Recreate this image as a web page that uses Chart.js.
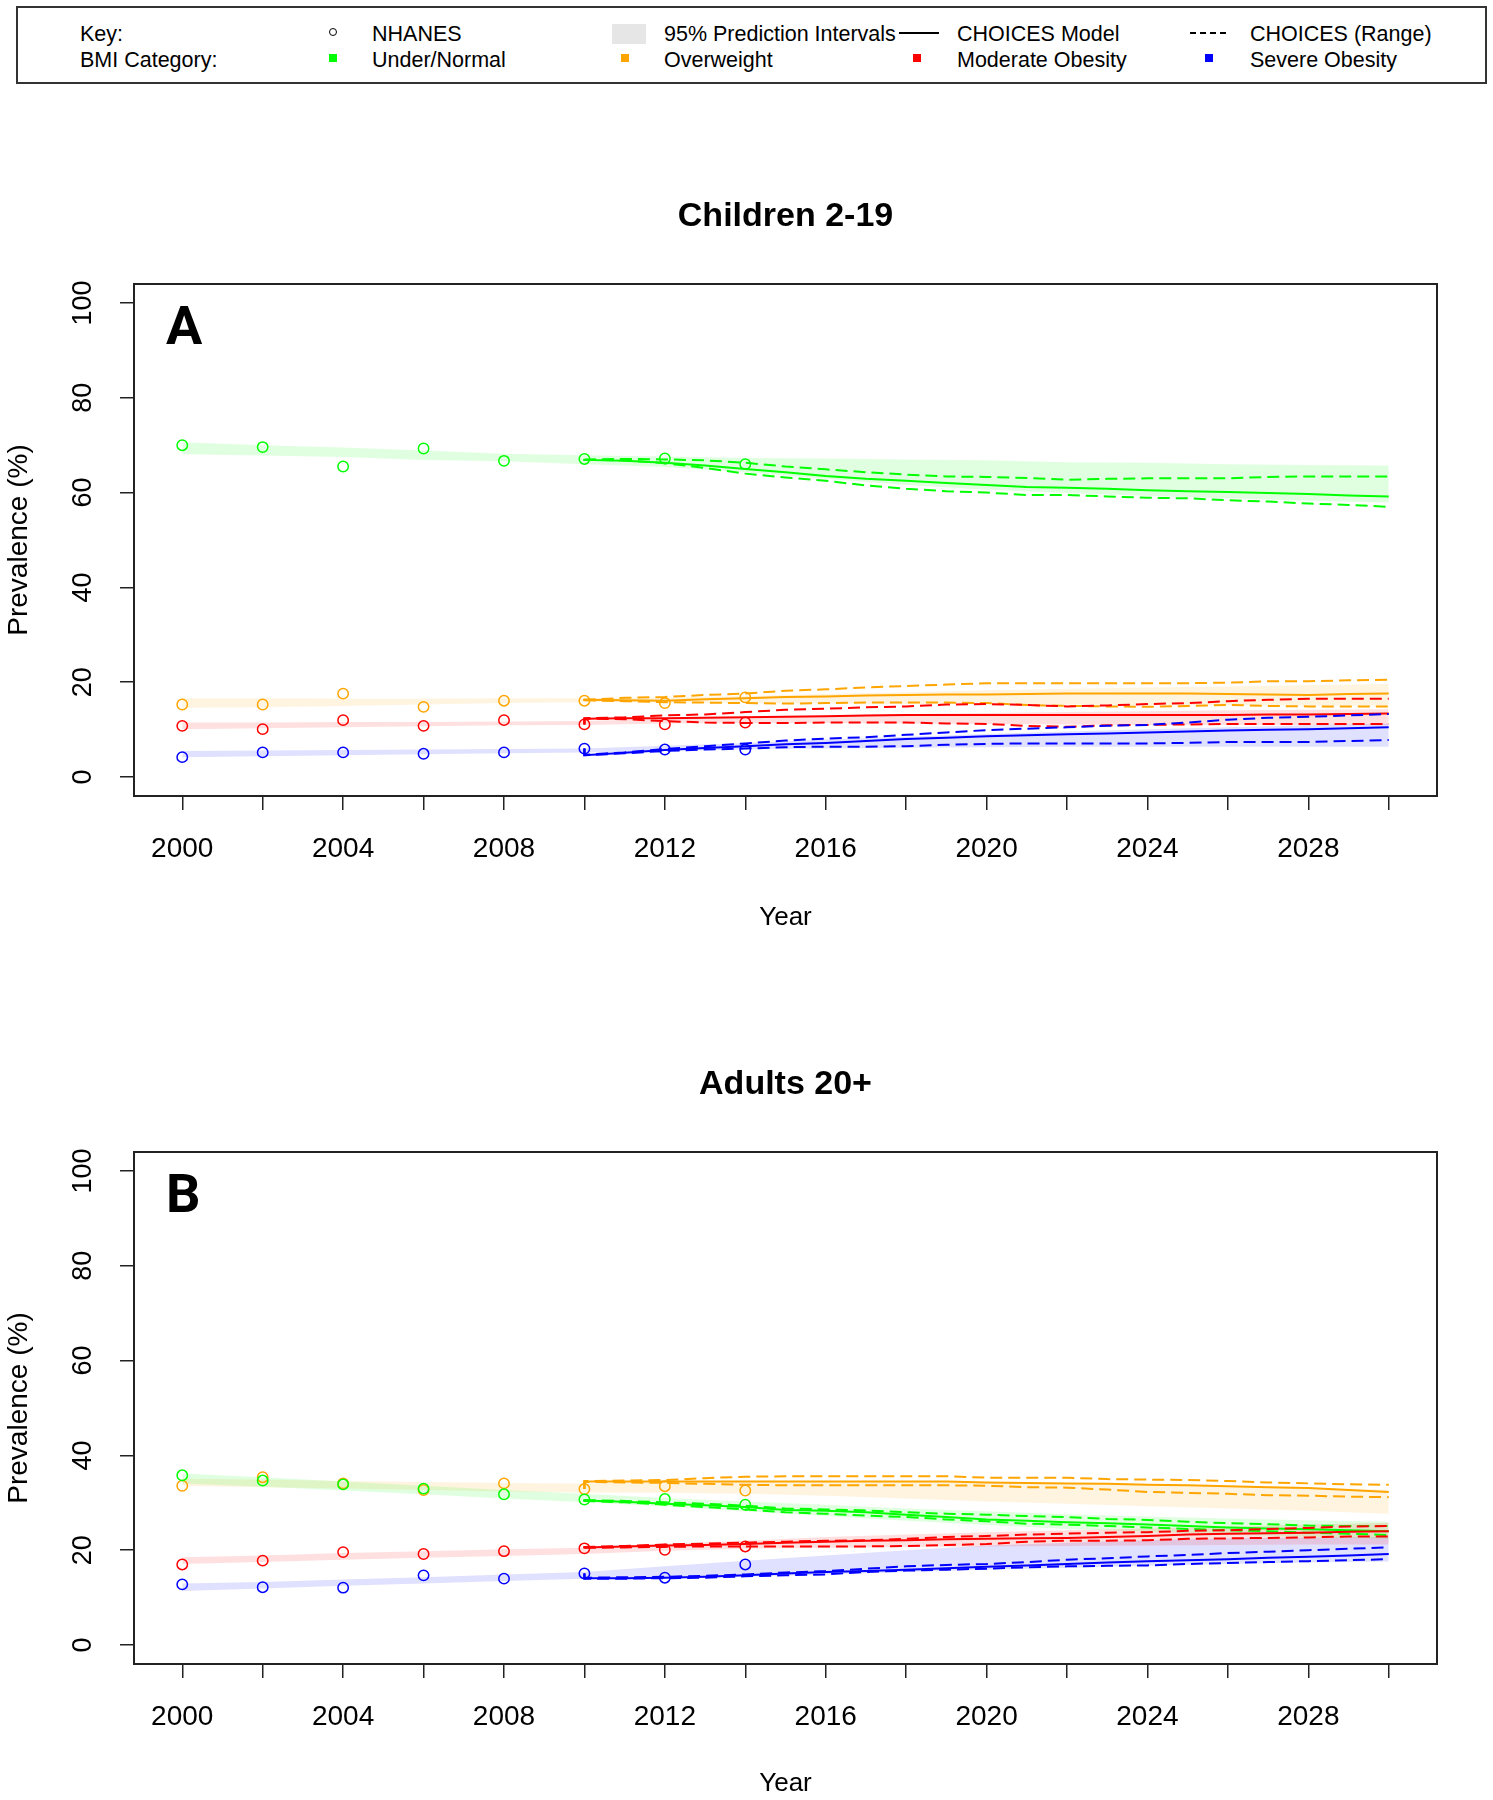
<!DOCTYPE html>
<html>
<head>
<meta charset="utf-8">
<title>BMI prevalence projections</title>
<script src="https://cdn.jsdelivr.net/npm/chart.js@4.4.1/dist/chart.umd.min.js"></script>
<style>
  html, body { margin: 0; padding: 0; background: #fff; }
  body { position: relative; width: 1493px; height: 1800px; font-family: 'Liberation Sans', Arial, sans-serif; color: #000; }
  .key-box { position: absolute; left: 16px; top: 6px; width: 1471px; height: 78px; border: 2px solid #333; box-sizing: border-box; }
  .key-txt { position: absolute; font-size: 21.5px; line-height: 24px; white-space: nowrap; }
  .sym { position: absolute; }
  canvas { position: absolute; left: 0; }
</style>
</head>
<body>

<div class="key-box"></div>
<div class="key-txt" style="left:80px;top:22px">Key:</div>
<div class="key-txt" style="left:80px;top:48px">BMI Category:</div>

<div class="sym" style="left:329px;top:28px;width:6px;height:6px;border:1.5px solid #000;border-radius:50%"></div>
<div class="key-txt" style="left:372px;top:22px">NHANES</div>
<div class="sym" style="left:329px;top:54px;width:8px;height:8px;background:#00ff00"></div>
<div class="key-txt" style="left:372px;top:48px">Under/Normal</div>

<div class="sym" style="left:612px;top:24px;width:34px;height:20px;background:#e6e6e6"></div>
<div class="key-txt" style="left:664px;top:22px">95% Prediction Intervals</div>
<div class="sym" style="left:621px;top:54px;width:8px;height:8px;background:#ffa500"></div>
<div class="key-txt" style="left:664px;top:48px">Overweight</div>

<div class="sym" style="left:899px;top:32px;width:40px;height:2px;background:#000"></div>
<div class="key-txt" style="left:957px;top:22px">CHOICES Model</div>
<div class="sym" style="left:913px;top:54px;width:8px;height:8px;background:#ff0000"></div>
<div class="key-txt" style="left:957px;top:48px">Moderate Obesity</div>

<div class="sym" style="left:1190px;top:32px;width:40px;height:1.5px;background:repeating-linear-gradient(90deg,#000 0 6px,transparent 6px 10px)"></div>
<div class="key-txt" style="left:1250px;top:22px">CHOICES (Range)</div>
<div class="sym" style="left:1205px;top:54px;width:8px;height:8px;background:#0000ff"></div>
<div class="key-txt" style="left:1250px;top:48px">Severe Obesity</div>

<canvas id="childChart" width="1493" height="860" style="top:101px"></canvas>
<canvas id="adultChart" width="1493" height="832" style="top:969px"></canvas>

<script>
const FONT = "'Liberation Sans', Arial, sans-serif";

const bmiCategories = ['Under/Normal', 'Overweight', 'Moderate Obesity', 'Severe Obesity'];
const bmiColors = ['#00ff00', '#ffa500', '#ff0000', '#0000ff'];
const bandColors = ['rgba(0,255,0,0.12)', 'rgba(255,165,0,0.12)', 'rgba(255,0,0,0.12)', 'rgba(0,0,255,0.12)'];

const nhanesYears = [2000, 2002, 2004, 2006, 2008, 2010, 2012, 2014];
// first 2010 entry is the calibration start (NHANES 2010), then the model output
const modelYears = [2010, 2010, 2011, 2012, 2013, 2014, 2015, 2016, 2017, 2018, 2019, 2020,
                    2021, 2022, 2023, 2024, 2025, 2026, 2027, 2028, 2029, 2030];
const bandYears = [2000, 2002, 2004, 2006, 2008, 2010, 2012, 2014, 2016, 2018, 2020, 2022, 2024, 2026, 2028, 2030];
const xTicks = [2000, 2002, 2004, 2006, 2008, 2010, 2012, 2014, 2016, 2018, 2020, 2022, 2024, 2026, 2028, 2030];
const xLabelYears = [2000, 2004, 2008, 2012, 2016, 2020, 2024, 2028];
const yTicks = [0, 20, 40, 60, 80, 100];

// ---- Children 2-19 ----
const childNhanesNormal   = [70.0, 69.6, 65.5, 69.3, 66.7, 67.1, 67.2, 66.0];
const childNhanesOver     = [15.3, 15.3, 17.6, 14.8, 16.1, 16.1, 15.6, 16.8];
const childNhanesModerate = [10.8, 10.1, 12.0, 10.8, 12.0, 11.1, 11.1, 11.5];
const childNhanesSevere   = [4.2, 5.2, 5.2, 4.9, 5.2, 6.0, 5.8, 5.8];

const childModelNormal = [67.1, 66.9, 66.7, 66.3, 65.7, 65.0, 64.3, 63.5, 62.9, 62.5, 62.0, 61.6, 61.2, 61.0, 60.8, 60.5, 60.3, 60.1, 59.9, 59.7, 59.4, 59.2];
const childHiNormal    = [67.1, 67.0, 67.1, 67.0, 66.8, 66.3, 65.5, 64.9, 64.3, 63.8, 63.4, 63.3, 63.1, 62.7, 62.9, 63.0, 63.0, 63.0, 63.3, 63.4, 63.4, 63.4];
const childLoNormal    = [67.1, 66.9, 66.8, 66.2, 65.2, 64.0, 63.2, 62.5, 61.5, 60.8, 60.3, 60.0, 59.5, 59.5, 59.2, 58.9, 58.8, 58.4, 58.1, 57.7, 57.4, 57.0];

const childModelOver = [16.1, 16.3, 16.2, 16.1, 16.4, 16.6, 16.9, 17.0, 17.2, 17.3, 17.4, 17.4, 17.5, 17.6, 17.6, 17.6, 17.6, 17.5, 17.4, 17.3, 17.5, 17.6];
const childHiOver    = [16.1, 16.3, 16.7, 16.9, 17.3, 17.6, 18.2, 18.5, 18.9, 19.2, 19.5, 19.8, 19.8, 19.8, 19.8, 19.8, 19.8, 19.9, 20.2, 20.2, 20.4, 20.5];
const childLoOver    = [16.1, 16.2, 16.0, 15.8, 15.7, 15.6, 15.5, 15.6, 15.7, 15.7, 15.7, 15.6, 15.2, 15.0, 14.9, 14.8, 15.0, 15.2, 15.0, 14.9, 14.9, 14.9];

const childModelModerate = [11.1, 12.3, 12.4, 12.4, 12.5, 12.6, 12.7, 12.8, 13.0, 13.1, 13.1, 13.1, 13.1, 13.1, 13.1, 13.1, 13.1, 13.1, 13.2, 13.2, 13.3, 13.4];
const childHiModerate    = [11.1, 12.4, 12.6, 13.0, 13.2, 13.7, 14.2, 14.4, 14.7, 14.9, 15.3, 15.4, 15.2, 14.9, 15.1, 15.4, 15.6, 16.0, 16.3, 16.5, 16.5, 16.5];
const childLoModerate    = [11.1, 12.3, 12.2, 11.8, 11.5, 11.4, 11.4, 11.5, 11.5, 11.5, 11.3, 11.2, 10.8, 10.6, 10.9, 11.0, 11.1, 11.2, 11.2, 11.2, 11.2, 11.2];

const childModelSevere = [6.0, 4.6, 5.1, 5.7, 6.1, 6.5, 6.9, 7.2, 7.6, 8.0, 8.3, 8.6, 8.8, 9.0, 9.2, 9.4, 9.6, 9.8, 10.0, 10.1, 10.3, 10.5];
const childHiSevere    = [6.0, 4.7, 5.2, 5.9, 6.5, 7.1, 7.7, 8.1, 8.4, 8.9, 9.4, 9.9, 10.2, 10.5, 10.8, 11.0, 11.5, 12.1, 12.5, 12.7, 13.0, 13.3];
const childLoSevere    = [6.0, 4.6, 5.0, 5.5, 5.8, 6.0, 6.3, 6.4, 6.4, 6.5, 6.8, 7.0, 7.1, 7.1, 7.1, 7.1, 7.2, 7.4, 7.4, 7.4, 7.6, 7.8];

const childBandHiNormal   = [70.6, 70.0, 69.5, 68.9, 68.2, 67.9, 67.6, 67.3, 67.2, 67.0, 66.8, 66.4, 66.3, 66.0, 65.8, 65.7];
const childBandLoNormal   = [68.1, 67.8, 67.5, 66.9, 66.6, 66.0, 65.4, 64.3, 62.9, 61.6, 60.6, 59.9, 59.3, 58.8, 58.3, 57.9];
const childBandHiOver     = [16.6, 16.6, 16.5, 16.5, 16.6, 16.6, 16.8, 17.1, 17.5, 17.9, 18.3, 18.6, 18.9, 19.1, 19.4, 19.6];
const childBandLoOver     = [14.6, 14.7, 15.0, 15.3, 15.6, 15.8, 15.7, 15.6, 15.5, 15.4, 15.4, 15.3, 15.2, 15.2, 15.1, 15.1];
const childBandHiModerate = [11.5, 11.5, 11.6, 11.6, 11.7, 11.8, 12.3, 12.7, 13.0, 13.3, 13.5, 13.7, 13.9, 14.1, 14.2, 14.3];
const childBandLoModerate = [10.1, 10.3, 10.5, 10.7, 10.9, 11.0, 11.3, 11.4, 11.4, 11.3, 11.2, 11.1, 11.0, 11.0, 10.9, 10.9];
const childBandHiSevere   = [5.5, 5.6, 5.7, 5.8, 5.9, 6.0, 6.6, 7.2, 7.9, 8.5, 9.1, 9.6, 10.1, 10.5, 10.9, 11.3];
const childBandLoSevere   = [4.2, 4.4, 4.6, 4.8, 5.0, 5.2, 5.5, 5.8, 6.0, 6.2, 6.3, 6.4, 6.4, 6.4, 6.4, 6.4];

// ---- Adults 20+ ----
const adultNhanesNormal   = [35.8, 34.7, 33.9, 33.0, 31.8, 30.7, 30.8, 29.6];
const adultNhanesOver     = [33.6, 35.4, 34.1, 32.7, 34.1, 32.9, 33.5, 32.6];
const adultNhanesModerate = [17.0, 17.8, 19.6, 19.2, 19.8, 20.4, 20.1, 20.8];
const adultNhanesSevere   = [12.8, 12.2, 12.1, 14.7, 14.0, 15.1, 14.2, 17.0];

const adultModelNormal = [30.7, 30.5, 30.2, 29.8, 29.5, 29.1, 28.5, 28.3, 28.0, 27.5, 27.0, 26.5, 26.2, 25.9, 25.7, 25.4, 25.1, 24.8, 24.6, 24.4, 24.2, 24.0];
const adultHiNormal    = [30.7, 30.6, 30.4, 30.1, 29.8, 29.4, 28.8, 28.6, 28.4, 28.0, 27.7, 27.5, 27.2, 27.0, 26.6, 26.4, 26.0, 25.7, 25.5, 25.2, 25.1, 25.1];
const adultLoNormal    = [30.7, 30.4, 30.1, 29.6, 29.1, 28.6, 28.0, 27.7, 27.3, 27.0, 26.5, 26.1, 25.6, 25.4, 25.1, 24.8, 24.5, 24.2, 24.0, 23.7, 23.5, 23.2];

const adultModelOver = [32.9, 34.5, 34.5, 34.5, 34.5, 34.5, 34.5, 34.5, 34.5, 34.5, 34.5, 34.3, 34.2, 34.1, 34.0, 33.8, 33.7, 33.5, 33.3, 33.1, 32.7, 32.3];
const adultHiOver    = [32.9, 34.6, 34.7, 34.8, 35.2, 35.5, 35.6, 35.6, 35.6, 35.6, 35.6, 35.3, 35.3, 35.3, 35.0, 34.9, 34.8, 34.6, 34.3, 34.1, 33.9, 33.8];
const adultLoOver    = [32.9, 34.4, 34.3, 34.2, 34.0, 33.8, 33.7, 33.7, 33.7, 33.7, 33.7, 33.6, 33.3, 33.2, 32.8, 32.3, 32.1, 31.9, 31.6, 31.5, 31.3, 31.2];

const adultModelModerate = [20.4, 20.6, 20.8, 21.0, 21.1, 21.3, 21.6, 21.8, 22.0, 22.1, 22.3, 22.4, 22.5, 22.6, 22.8, 23.0, 23.3, 23.5, 23.6, 23.7, 23.9, 24.0];
const adultHiModerate    = [20.4, 20.7, 20.9, 21.2, 21.4, 21.6, 21.8, 22.0, 22.1, 22.4, 22.8, 23.0, 23.3, 23.5, 23.7, 23.8, 24.1, 24.2, 24.5, 24.7, 25.0, 25.1];
const adultLoModerate    = [20.4, 20.5, 20.6, 20.7, 20.8, 20.8, 20.8, 20.8, 20.8, 20.9, 21.1, 21.3, 21.8, 22.0, 22.0, 22.1, 22.4, 22.5, 22.6, 22.7, 22.9, 22.9];

const adultModelSevere = [15.1, 14.1, 14.1, 14.2, 14.4, 14.7, 15.1, 15.4, 15.6, 15.9, 16.2, 16.5, 16.8, 17.1, 17.4, 17.7, 17.9, 18.1, 18.4, 18.6, 18.9, 19.2];
const adultHiSevere    = [15.1, 14.2, 14.3, 14.4, 14.6, 14.9, 15.3, 15.6, 16.1, 16.6, 16.9, 17.1, 17.5, 18.0, 18.3, 18.7, 19.0, 19.4, 19.7, 20.0, 20.3, 20.6];
const adultLoSevere    = [15.1, 14.0, 14.0, 14.1, 14.2, 14.5, 14.7, 14.9, 15.4, 15.7, 15.9, 16.1, 16.4, 16.6, 16.7, 16.8, 17.1, 17.3, 17.5, 17.7, 17.9, 18.1];

const adultBandHiNormal   = [36.2, 35.4, 34.5, 33.6, 32.7, 31.9, 31.0, 30.3, 29.6, 28.8, 28.2, 27.6, 27.1, 26.7, 26.3, 26.0];
const adultBandLoNormal   = [34.1, 33.4, 32.6, 31.8, 30.9, 30.1, 29.2, 28.2, 27.2, 26.2, 25.3, 24.5, 23.9, 23.3, 22.8, 22.4];
const adultBandHiOver     = [35.1, 34.9, 34.6, 34.4, 34.2, 34.1, 34.4, 34.6, 34.6, 34.5, 34.2, 34.0, 33.8, 33.5, 33.2, 32.8];
const adultBandLoOver     = [33.6, 33.3, 33.0, 32.7, 32.4, 32.2, 32.1, 31.9, 31.5, 30.9, 30.3, 29.8, 29.3, 28.8, 28.3, 27.7];
const adultBandHiModerate = [18.5, 18.9, 19.4, 19.8, 20.2, 20.5, 21.4, 22.0, 22.8, 23.3, 23.8, 24.2, 24.6, 25.0, 25.4, 25.8];
const adultBandLoModerate = [17.1, 17.5, 18.0, 18.4, 18.8, 19.2, 19.9, 20.3, 20.5, 20.7, 20.8, 20.9, 21.0, 21.1, 21.2, 21.2];
const adultBandHiSevere   = [13.0, 13.3, 13.8, 14.3, 14.9, 15.4, 16.6, 17.8, 18.9, 20.0, 21.0, 21.6, 22.1, 22.5, 22.7, 22.8];
const adultBandLoSevere   = [11.4, 11.9, 12.5, 13.0, 13.5, 14.0, 14.1, 14.4, 14.9, 15.4, 15.9, 16.3, 16.7, 17.1, 17.4, 17.6];

const pts = (xs, ys) => xs.map((x, i) => ({ x, y: ys[i] }));

// draws the R-style frame, rotated y tick labels and the panel letter
const framePlugin = {
  id: 'frame',
  afterDraw(chart, args, opts) {
    const { ctx, chartArea: a } = chart;
    const yScale = chart.scales.y;
    ctx.save();
    ctx.strokeStyle = '#222';
    ctx.lineWidth = 2;
    ctx.strokeRect(a.left, a.top, a.right - a.left, a.bottom - a.top);

    ctx.fillStyle = '#000';
    ctx.font = '27px ' + FONT;
    ctx.textAlign = 'center';
    ctx.textBaseline = 'middle';
    yScale.ticks.forEach(t => {
      ctx.save();
      ctx.translate(a.left - 50, yScale.getPixelForValue(t.value));
      ctx.rotate(-Math.PI / 2);
      ctx.fillText(String(t.value), 0, 0);
      ctx.restore();
    });

    ctx.font = "bold 54px Roboto, 'Liberation Sans', sans-serif";
    ctx.textAlign = 'left';
    ctx.fillText(opts.letter, a.left + 32, a.top + 46);
    ctx.restore();
  }
};

function makeChart(canvasId, p) {
  const canvas = document.getElementById(canvasId);
  const H = canvas.height;
  const datasets = [];

  bmiCategories.forEach((cat, i) => {
    datasets.push({
      label: cat + ' 95% PI', data: pts(bandYears, p.bandHi[i]),
      borderWidth: 0, pointRadius: 0, backgroundColor: bandColors[i], fill: '+1', order: 3
    });
    datasets.push({
      label: cat + ' 95% PI (low)', data: pts(bandYears, p.bandLo[i]),
      borderWidth: 0, pointRadius: 0, fill: false, order: 3
    });
  });

  bmiCategories.forEach((cat, i) => {
    const ord = 2.4 - i * 0.1;
    datasets.push({
      label: cat + ' CHOICES', data: pts(modelYears, p.model[i]),
      borderColor: bmiColors[i], borderWidth: 2, pointRadius: 0, fill: false, order: ord
    });
    [p.hi[i], p.lo[i]].forEach(vals => {
      datasets.push({
        label: cat + ' CHOICES range', data: pts(modelYears, vals),
        borderColor: bmiColors[i], borderWidth: 2, borderDash: [12, 6], pointRadius: 0, fill: false, order: ord
      });
    });
  });

  bmiCategories.forEach((cat, i) => {
    datasets.push({
      label: cat + ' NHANES', data: pts(nhanesYears, p.nhanes[i]),
      showLine: false, pointStyle: 'circle', pointRadius: 5.2, pointBorderWidth: 1.5,
      pointBorderColor: bmiColors[i], pointBackgroundColor: 'rgba(0,0,0,0)', order: 1
    });
  });

  const axisGrid = { display: true, drawOnChartArea: false, drawTicks: true, tickLength: 14, color: '#222', lineWidth: 1.5 };

  return new Chart(canvas, {
    type: 'line',
    data: { datasets },
    plugins: [framePlugin],
    options: {
      responsive: false,
      animation: false,
      events: [],
      layout: { padding: { top: 0, right: 56, bottom: 0, left: 0 } },
      elements: { line: { tension: 0 } },
      scales: {
        x: {
          type: 'linear', min: 1998.8, max: 2031.2,
          afterBuildTicks: s => { s.ticks = xTicks.map(v => ({ value: v })); },
          afterFit: s => { s.height = H - 695; },
          grid: axisGrid,
          border: { display: false },
          ticks: {
            autoSkip: false, maxRotation: 0, minRotation: 0, padding: 22, color: '#000',
            font: { family: FONT, size: 28 },
            callback: v => xLabelYears.includes(v) ? String(v) : ''
          },
          title: { display: true, text: 'Year', color: '#000', font: { family: FONT, size: 26 }, padding: { top: 0, bottom: p.yearPad } }
        },
        y: {
          type: 'linear', min: -4, max: 104,
          afterBuildTicks: s => { s.ticks = yTicks.map(v => ({ value: v })); },
          afterFit: s => { s.width = 134; },
          grid: axisGrid,
          border: { display: false },
          ticks: { display: false },
          title: { display: true, text: 'Prevalence (%)', color: '#000', font: { family: FONT, size: 28 }, padding: { top: 2, bottom: 0 } }
        }
      },
      plugins: {
        legend: { display: false },
        tooltip: { enabled: false },
        title: {
          display: true, text: p.title, fullSize: false, color: '#000',
          font: { family: FONT, size: 34, weight: 'bold' },
          padding: { top: 95.6, bottom: 46.6 }
        },
        frame: { letter: p.letter }
      }
    }
  });
}

makeChart('childChart', {
  title: 'Children 2-19', letter: 'A', yearPad: 28,
  nhanes: [childNhanesNormal, childNhanesOver, childNhanesModerate, childNhanesSevere],
  model: [childModelNormal, childModelOver, childModelModerate, childModelSevere],
  hi: [childHiNormal, childHiOver, childHiModerate, childHiSevere],
  lo: [childLoNormal, childLoOver, childLoModerate, childLoSevere],
  bandHi: [childBandHiNormal, childBandHiOver, childBandHiModerate, childBandHiSevere],
  bandLo: [childBandLoNormal, childBandLoOver, childBandLoModerate, childBandLoSevere]
});

makeChart('adultChart', {
  title: 'Adults 20+', letter: 'B', yearPad: 2,
  nhanes: [adultNhanesNormal, adultNhanesOver, adultNhanesModerate, adultNhanesSevere],
  model: [adultModelNormal, adultModelOver, adultModelModerate, adultModelSevere],
  hi: [adultHiNormal, adultHiOver, adultHiModerate, adultHiSevere],
  lo: [adultLoNormal, adultLoOver, adultLoModerate, adultLoSevere],
  bandHi: [adultBandHiNormal, adultBandHiOver, adultBandHiModerate, adultBandHiSevere],
  bandLo: [adultBandLoNormal, adultBandLoOver, adultBandLoModerate, adultBandLoSevere]
});
</script>
</body>
</html>
